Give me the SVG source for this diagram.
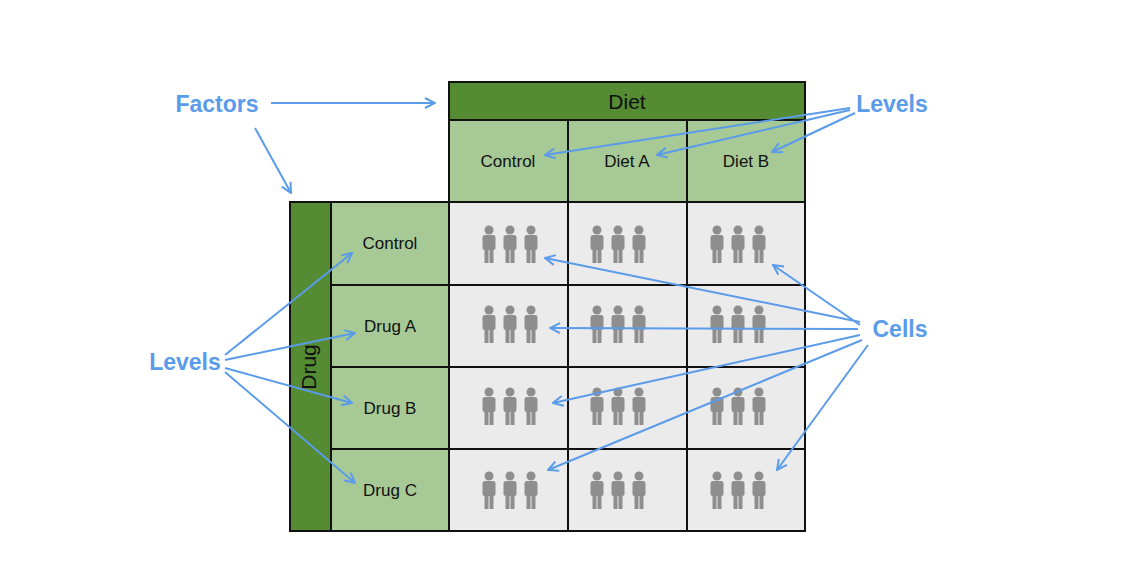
<svg xmlns="http://www.w3.org/2000/svg" width="1136" height="586" viewBox="0 0 1136 586">
<style>
.dk{fill:#548b33;stroke:#111;stroke-width:2}
.lt{fill:#a6c996;stroke:#111;stroke-width:2}
.cl{fill:#ebebeb;stroke:#111;stroke-width:2}
.t{font-family:"Liberation Sans",Arial,sans-serif;font-size:17px;fill:#111;text-anchor:middle}
.big{font-size:21px}
.b{font-family:"Liberation Sans",Arial,sans-serif;font-size:23px;font-weight:bold;fill:#5a9bea;text-anchor:middle}
.a{stroke:#5a9bea;stroke-width:2;fill:none;marker-end:url(#m)}
.p{fill:#8e8e8e}
</style>
<defs>
<marker id="m" viewBox="0 0 12 12" refX="11" refY="6" markerWidth="12" markerHeight="12" markerUnits="userSpaceOnUse" orient="auto"><path d="M1,1 L11,6 L1,11" fill="none" stroke="#5a9bea" stroke-width="2"/></marker>
<g id="pp"><circle cx="0" cy="-14" r="4.5"/><rect x="-6.5" y="-9" width="13" height="15" rx="2.5"/><rect x="-4.5" y="4" width="4" height="15"/><rect x="0.5" y="4" width="4" height="15"/></g>
<g id="tri" class="p"><use href="#pp" x="-21"/><use href="#pp" x="0"/><use href="#pp" x="21"/></g>
</defs>
<rect width="1136" height="586" fill="#fff"/>
<g id="diet"><rect class="dk" x="449" y="82" width="356" height="38"/><text class="t big" x="627" y="109">Diet</text></g>
<g id="diet-levels">
<rect class="lt" x="449" y="120" width="119" height="82"/><text class="t" x="508" y="167">Control</text>
<rect class="lt" x="568" y="120" width="119" height="82"/><text class="t" x="627" y="167">Diet A</text>
<rect class="lt" x="687" y="120" width="118" height="82"/><text class="t" x="746" y="167">Diet B</text>
</g>
<g id="drug"><rect class="dk" x="290" y="202" width="41" height="329"/><text class="t big" transform="translate(316,367) rotate(-90)">Drug</text></g>
<g id="drug-levels">
<rect class="lt" x="331" y="202" width="118" height="83"/><text class="t" x="390" y="249">Control</text>
<rect class="lt" x="331" y="285" width="118" height="82"/><text class="t" x="390" y="332">Drug A</text>
<rect class="lt" x="331" y="367" width="118" height="82"/><text class="t" x="390" y="414">Drug B</text>
<rect class="lt" x="331" y="449" width="118" height="82"/><text class="t" x="390" y="496">Drug C</text>
</g>
<g id="cells">
<rect class="cl" x="449" y="202" width="119" height="83"/><rect class="cl" x="568" y="202" width="119" height="83"/><rect class="cl" x="687" y="202" width="118" height="83"/>
<rect class="cl" x="449" y="285" width="119" height="82"/><rect class="cl" x="568" y="285" width="119" height="82"/><rect class="cl" x="687" y="285" width="118" height="82"/>
<rect class="cl" x="449" y="367" width="119" height="82"/><rect class="cl" x="568" y="367" width="119" height="82"/><rect class="cl" x="687" y="367" width="118" height="82"/>
<rect class="cl" x="449" y="449" width="119" height="82"/><rect class="cl" x="568" y="449" width="119" height="82"/><rect class="cl" x="687" y="449" width="118" height="82"/>
<use href="#tri" x="510" y="244"/><use href="#tri" x="618" y="244"/><use href="#tri" x="738" y="244"/>
<use href="#tri" x="510" y="324"/><use href="#tri" x="618" y="324"/><use href="#tri" x="738" y="324"/>
<use href="#tri" x="510" y="406"/><use href="#tri" x="618" y="406"/><use href="#tri" x="738" y="406"/>
<use href="#tri" x="510" y="490"/><use href="#tri" x="618" y="490"/><use href="#tri" x="738" y="490"/>
</g>
<g id="labels">
<text class="b" x="217" y="112">Factors</text>
<text class="b" x="892" y="112">Levels</text>
<text class="b" x="185" y="370">Levels</text>
<text class="b" x="900" y="337">Cells</text>
</g>
<g id="connectors">
<path class="a" d="M271,103 L435,103"/>
<path class="a" d="M255,128 L291,193"/>
<path class="a" d="M850,108 L545,155"/>
<path class="a" d="M850,110 L657,155"/>
<path class="a" d="M855,113 L772,152"/>
<path class="a" d="M225,355 L352,253"/>
<path class="a" d="M225,360 L355,333"/>
<path class="a" d="M225,368 L352,403"/>
<path class="a" d="M225,372 L355,483"/>
<path class="a" d="M860,322 L545,258"/>
<path class="a" d="M860,325 L773,265"/>
<path class="a" d="M858,329 L550,328"/>
<path class="a" d="M860,335 L553,403"/>
<path class="a" d="M862,340 L548,470"/>
<path class="a" d="M868,345 L777,470"/>
</g>
</svg>
